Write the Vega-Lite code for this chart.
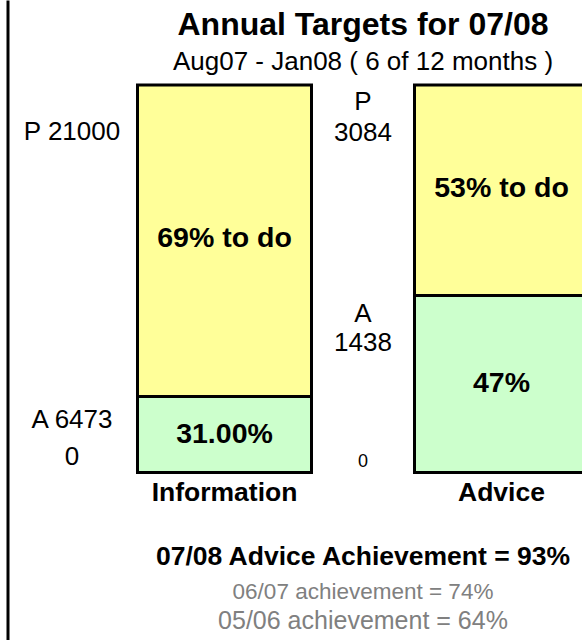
{
  "$schema": "https://vega.github.io/schema/vega-lite/v6.json",
  "width": 582,
  "height": 640,
  "padding": 0,
  "autosize": {"type": "none"},
  "background": "white",
  "config": {"view": {"stroke": null}, "font": "Liberation Sans, Arial, sans-serif", "text": {"font": "Liberation Sans, Arial, sans-serif"}},
  "datasets": {
    "bars": [
      {"column": "Information", "part": "achieved", "start": 0, "end": 19.6},
      {"column": "Information", "part": "to do", "start": 19.6, "end": 100},
      {"column": "Advice", "part": "achieved", "start": 0, "end": 45.7},
      {"column": "Advice", "part": "to do", "start": 45.7, "end": 100}
    ],
    "labels": [
      {"role": "title", "column": "lbl_Advice", "pos": 115.5, "text": "Annual Targets for 07/08"},
      {"role": "subtitle", "column": "lbl_Advice", "pos": 105.9, "text": "Aug07 - Jan08 ( 6 of 12 months )"},
      {"role": "infoaxis", "column": "lbl_Information", "pos": 87.9, "text": "P 21000"},
      {"role": "infoaxis", "column": "lbl_Information", "pos": 13.5, "text": "A 6473"},
      {"role": "infoaxis", "column": "lbl_Information", "pos": 3.9, "text": "0"},
      {"role": "advaxis", "column": "lbl_Advice", "pos": 95.5, "text": "P"},
      {"role": "advaxis", "column": "lbl_Advice", "pos": 87.7, "text": "3084"},
      {"role": "advaxis", "column": "lbl_Advice", "pos": 40.9, "text": "A"},
      {"role": "advaxis", "column": "lbl_Advice", "pos": 33.5, "text": "1438"},
      {"role": "advzero", "column": "lbl_Advice", "pos": 2.8, "text": "0"},
      {"role": "inbar", "column": "Information", "pos": 60.5, "text": "69% to do"},
      {"role": "inbar", "column": "Information", "pos": 9.9, "text": "31.00%"},
      {"role": "inbar", "column": "Advice", "pos": 73.4, "text": "53% to do"},
      {"role": "inbar", "column": "Advice", "pos": 23.1, "text": "47%"},
      {"role": "category", "column": "Information", "pos": -5.2, "text": "Information"},
      {"role": "category", "column": "Advice", "pos": -5.2, "text": "Advice"},
      {"role": "category", "column": "lbl_Advice", "pos": -21.8, "text": "07/08 Advice Achievement = 93%"},
      {"role": "prev1", "column": "lbl_Advice", "pos": -30.8, "text": "06/07 achievement = 74%"},
      {"role": "prev2", "column": "lbl_Advice", "pos": -38.3, "text": "05/06 achievement = 64%"}
    ]
  },
  "layer": [
    {
      "data": {"name": "bars"},
      "mark": {"type": "bar", "width": 174, "stroke": "black", "strokeWidth": 3, "clip": false},
      "encoding": {
        "x": {"field": "column", "type": "nominal", "scale": {"type": "band", "domain": ["lbl_Information", "Information", "lbl_Advice", "Advice"], "range": [16.75, 570.75], "paddingInner": 0, "paddingOuter": 0}, "axis": null},
        "y": {"field": "start", "type": "quantitative", "scale": {"domain": [-43.226, 121.935], "nice": false, "zero": false}, "axis": {"orient": "left", "domain": true, "domainColor": "black", "domainWidth": 3, "ticks": false, "labels": false, "grid": false, "title": null, "offset": -7.5}},
        "y2": {"field": "end"},
        "color": {"field": "part", "type": "nominal", "scale": {"domain": ["achieved", "to do"], "range": ["#CCFFCC", "#FFFF99"]}, "legend": null}
      }
    },
    {
      "data": {"name": "labels"},
      "transform": [{"filter": "datum.role === 'title'"}],
      "mark": {"type": "text", "font": "Liberation Sans", "fontSize": 32, "fontWeight": "bold", "color": "black", "baseline": "middle", "align": "center"},
      "encoding": {
        "x": {"field": "column", "type": "nominal"},
        "y": {"field": "pos", "type": "quantitative"},
        "text": {"field": "text"}
      }
    },
    {
      "data": {"name": "labels"},
      "transform": [{"filter": "datum.role === 'subtitle'"}],
      "mark": {"type": "text", "font": "Liberation Sans", "fontSize": 26, "color": "black", "baseline": "middle", "align": "center"},
      "encoding": {
        "x": {"field": "column", "type": "nominal"},
        "y": {"field": "pos", "type": "quantitative"},
        "text": {"field": "text"}
      }
    },
    {
      "data": {"name": "labels"},
      "transform": [{"filter": "datum.role === 'infoaxis'"}],
      "mark": {"type": "text", "font": "Liberation Sans", "fontSize": 26, "color": "black", "baseline": "middle", "align": "center", "dx": -14},
      "encoding": {
        "x": {"field": "column", "type": "nominal"},
        "y": {"field": "pos", "type": "quantitative"},
        "text": {"field": "text"}
      }
    },
    {
      "data": {"name": "labels"},
      "transform": [{"filter": "datum.role === 'advaxis'"}],
      "mark": {"type": "text", "font": "Liberation Sans", "fontSize": 26, "color": "black", "baseline": "middle", "align": "center"},
      "encoding": {
        "x": {"field": "column", "type": "nominal"},
        "y": {"field": "pos", "type": "quantitative"},
        "text": {"field": "text"}
      }
    },
    {
      "data": {"name": "labels"},
      "transform": [{"filter": "datum.role === 'advzero'"}],
      "mark": {"type": "text", "font": "Liberation Sans", "fontSize": 18, "color": "black", "baseline": "middle", "align": "center"},
      "encoding": {
        "x": {"field": "column", "type": "nominal"},
        "y": {"field": "pos", "type": "quantitative"},
        "text": {"field": "text"}
      }
    },
    {
      "data": {"name": "labels"},
      "transform": [{"filter": "datum.role === 'inbar'"}],
      "mark": {"type": "text", "font": "Liberation Sans", "fontSize": 28.5, "fontWeight": "bold", "color": "black", "baseline": "middle", "align": "center"},
      "encoding": {
        "x": {"field": "column", "type": "nominal"},
        "y": {"field": "pos", "type": "quantitative"},
        "text": {"field": "text"}
      }
    },
    {
      "data": {"name": "labels"},
      "transform": [{"filter": "datum.role === 'category'"}],
      "mark": {"type": "text", "font": "Liberation Sans", "fontSize": 26.5, "fontWeight": "bold", "color": "black", "baseline": "middle", "align": "center"},
      "encoding": {
        "x": {"field": "column", "type": "nominal"},
        "y": {"field": "pos", "type": "quantitative"},
        "text": {"field": "text"}
      }
    },
    {
      "data": {"name": "labels"},
      "transform": [{"filter": "datum.role === 'prev1'"}],
      "mark": {"type": "text", "font": "Liberation Sans", "fontSize": 22.5, "color": "#808080", "baseline": "middle", "align": "center"},
      "encoding": {
        "x": {"field": "column", "type": "nominal"},
        "y": {"field": "pos", "type": "quantitative"},
        "text": {"field": "text"}
      }
    },
    {
      "data": {"name": "labels"},
      "transform": [{"filter": "datum.role === 'prev2'"}],
      "mark": {"type": "text", "font": "Liberation Sans", "fontSize": 25, "color": "#808080", "baseline": "middle", "align": "center"},
      "encoding": {
        "x": {"field": "column", "type": "nominal"},
        "y": {"field": "pos", "type": "quantitative"},
        "text": {"field": "text"}
      }
    }
  ]
}
